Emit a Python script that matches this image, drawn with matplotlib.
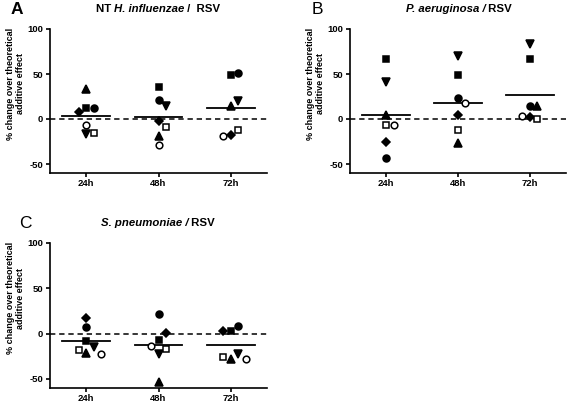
import matplotlib
matplotlib.use("Agg")
import matplotlib.pyplot as plt
import numpy as np

plt.rcParams['font.family'] = ['Liberation Sans', 'DejaVu Sans']
plt.rcParams['font.weight'] = 'bold'

# data: rows = series (filled square, filled circle, triangle up,
# triangle down, diamond, open square, open circle), columns = time points
times = ["24h", "48h", "72h"]

h_influenzae = [
    [12, 36, 49],
    [12, 21, 51],
    [33, -19, 14],
    [-17, 14, 20],
    [8, -2, -18],
    [-16, -9, -12],
    [-7, -29, -19],
]
p_aeruginosa = [
    [67, 49, 67],
    [-43, 23, 15],
    [5, -27, 14],
    [41, 70, 83],
    [-26, 4, 2],
    [-7, -12, 0.5],
    [-7, 18, 3],
]
s_pneumoniae = [
    [-8, -7, 3],
    [7, 22, 8],
    [-21, -53, -28],
    [-15, -23, -22],
    [17, 1, 3],
    [-18, -17, -26],
    [-22, -14, -28],
]

# marker styles for the seven series
styles = [
    dict(marker='s', ms=4.8, mfc='black'),
    dict(marker='o', ms=5.0, mfc='black'),
    dict(marker='^', ms=5.5, mfc='black'),
    dict(marker='v', ms=5.5, mfc='black'),
    dict(marker='D', ms=4.0, mfc='black'),
    dict(marker='s', ms=4.6, mfc='white'),
    dict(marker='o', ms=4.8, mfc='white'),
]

W, H = 568, 404
fig = plt.figure(figsize=(W / 100, H / 100), dpi=100)


def swarm(vals, px_x, px_y, size=7.5):
    # GraphPad-like side-by-side placement of overlapping points
    placed = []
    offs = []
    step = size / px_x
    for v in vals:
        k = 0
        while True:
            cands = [0.0] if k == 0 else [k * step, -k * step]
            ok = None
            for c in cands:
                hit = False
                for (pc, pv) in placed:
                    dx = (c - pc) * px_x
                    dy = (v - pv) * px_y
                    if dx * dx + dy * dy < size * size:
                        hit = True
                        break
                if not hit:
                    ok = c
                    break
            if ok is not None:
                break
            k += 1
        placed.append((ok, v))
        offs.append(ok)
    return offs


def panel(rect, data):
    ax = fig.add_axes(rect)
    ax.set_xlim(-0.5, 2.5)
    ax.set_ylim(-60, 100)
    bbox = ax.get_position()
    px_x = bbox.width * W / 3.0
    px_y = bbox.height * H / 160.0
    arr = np.array(data, dtype=float)
    ax.axhline(0, color='black', lw=1.1, ls=(0, (3.5, 2.5)), zorder=1)
    for j in range(len(times)):
        col = arr[:, j]
        offs = swarm(col, px_x, px_y)
        for i, st in enumerate(styles):
            ax.plot(j + offs[i], col[i], ls='none', mec='black', mew=1.1,
                    clip_on=False, zorder=3, **st)
        m = col.mean()
        ax.plot([j - 0.33, j + 0.33], [m, m], color='black', lw=1.3, zorder=2)
    for s in ['top', 'right']:
        ax.spines[s].set_visible(False)
    for s in ['left', 'bottom']:
        ax.spines[s].set_linewidth(1.2)
    ax.set_xticks(range(len(times)))
    ax.set_xticklabels(times, fontsize=6.8, fontweight='bold')
    ax.set_yticks([-50, 0, 50, 100])
    ax.set_yticklabels(['-50', '0', '50', '100'], fontsize=6.8, fontweight='bold')
    ax.tick_params(width=1.2, length=3, pad=2)
    ax.tick_params(axis='x', pad=1.5)
    ax.set_ylabel('% change over theoretical\nadditive effect', fontsize=6.5,
                  fontweight='bold', labelpad=4, linespacing=1.1)
    ax.yaxis.set_label_coords(-0.115, 0.62)
    return ax


def rich_title(xc, y, pieces):
    texts = [fig.text(0, y, s, fontsize=8.2, fontweight='bold', fontstyle=st,
                      va='center', ha='left') for s, st in pieces]
    r = fig.canvas.get_renderer()
    widths = [t.get_window_extent(r).width for t in texts]
    x0 = xc * W - sum(widths) / 2
    for t, w in zip(texts, widths):
        t.set_x(x0 / W)
        x0 += w


axA = panel([50 / W, 1 - 173 / H, 217 / W, 144 / H], h_influenzae)
axB = panel([350 / W, 1 - 173 / H, 216 / W, 144 / H], p_aeruginosa)
axC = panel([50 / W, 1 - 388 / H, 217 / W, 145 / H], s_pneumoniae)

rich_title(158 / W, 1 - 9 / H, [("NT ", 'normal'), ("H. influenzae", 'italic'), (" /  RSV", 'normal')])
rich_title(459 / W, 1 - 9 / H, [("P. aeruginosa /", 'italic'), (" RSV", 'normal')])
rich_title(158 / W, 1 - 223 / H, [("S. pneumoniae /", 'italic'), (" RSV", 'normal')])

fig.text(17 / W, 1 - 9 / H, "A", fontsize=12.5, fontweight='bold', ha='center', va='center')
fig.text(317 / W, 1 - 9 / H, "B", fontsize=12.5, fontweight='normal', ha='center', va='center')
fig.text(25 / W, 1 - 223 / H, "C", fontsize=12.5, fontweight='normal', ha='center', va='center')

fig.savefig("out.png", dpi=100)
